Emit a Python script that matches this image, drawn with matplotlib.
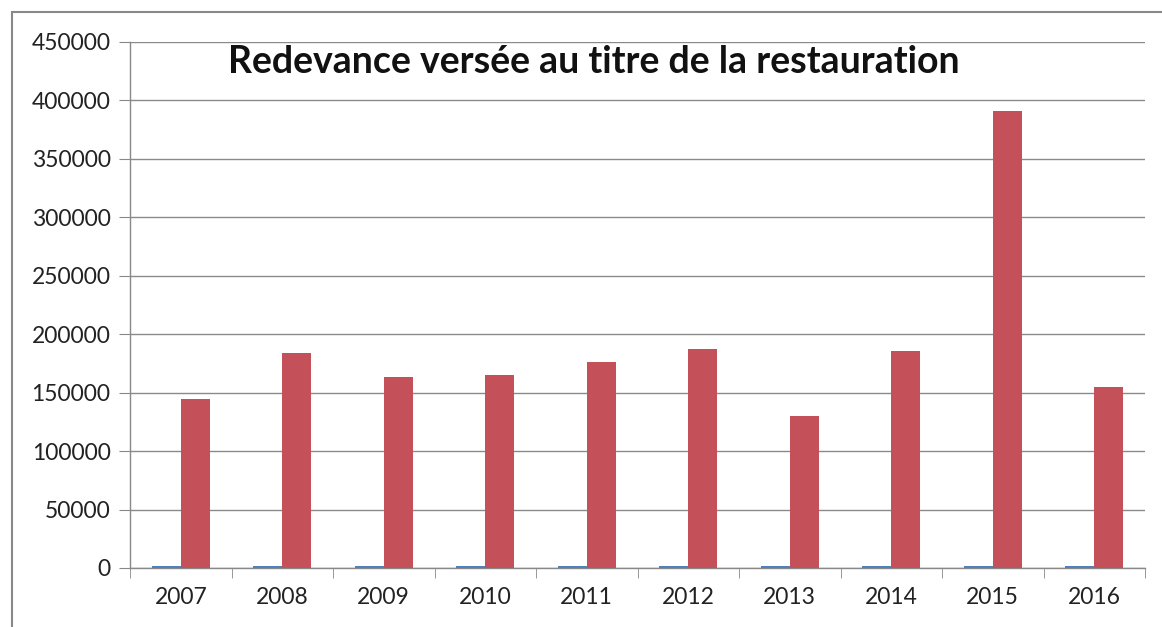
import matplotlib
matplotlib.use("Agg")
import matplotlib.pyplot as plt
from matplotlib.patches import Rectangle
import numpy as np

years = ["2007", "2008", "2009", "2010", "2011", "2012", "2013", "2014", "2015", "2016"]
series_year = [2007, 2008, 2009, 2010, 2011, 2012, 2013, 2014, 2015, 2016]
redevance = [144500, 184000, 163500, 165000, 176000, 187000, 130000, 185500, 391000, 155000]
yticks = [0, 50000, 100000, 150000, 200000, 250000, 300000, 350000, 400000, 450000]
title = "Redevance versée au titre de la restauration"

plt.rcParams['font.family'] = ['Lato', 'DejaVu Sans']

fig = plt.figure(figsize=(11.62, 6.27), dpi=100)
ax = fig.add_axes([130/1162, 1-568/627, (1145-130)/1162, (568-42)/627])

x = np.arange(len(years))
w = 1/3.5
ax.bar(x - w/2, series_year, width=w, color='#4F81BD', zorder=3)
ax.bar(x + w/2, redevance, width=w, color='#C4505A', zorder=3)

ax.set_xlim(-0.5, len(years) - 0.5)
ax.set_ylim(0, 450000)
ax.set_yticks(yticks)
ax.set_yticklabels([str(v) for v in yticks], fontsize=16.5, color='#222222')
ax.set_xticks(x)
ax.set_xticklabels(years, fontsize=16.5, color='#222222')
ax.set_xticks(np.arange(len(years) + 1) - 0.5, minor=True)
ax.tick_params(axis='x', which='major', length=0, pad=14)
ax.tick_params(axis='x', which='minor', length=7, color='#888888', direction='out')
ax.tick_params(axis='y', length=8, color='#888888', direction='out', pad=6)
ax.grid(axis='y', color='#8a8a8a', linewidth=1, zorder=0)
for s in ['top', 'right']:
    ax.spines[s].set_visible(False)
for s in ['left', 'bottom']:
    ax.spines[s].set_color('#888888')
    ax.spines[s].set_linewidth(1)

fig.text(594/1162, 1-62/627, title, fontsize=27, fontweight='bold', ha='center', va='center', color='#111111')

fig.patches.append(Rectangle((12/1162, -0.05), 1.2, 1-12/627+0.05, transform=fig.transFigure,
                             fill=False, edgecolor='#888888', linewidth=1.5))

fig.savefig("out.png", dpi=100)
